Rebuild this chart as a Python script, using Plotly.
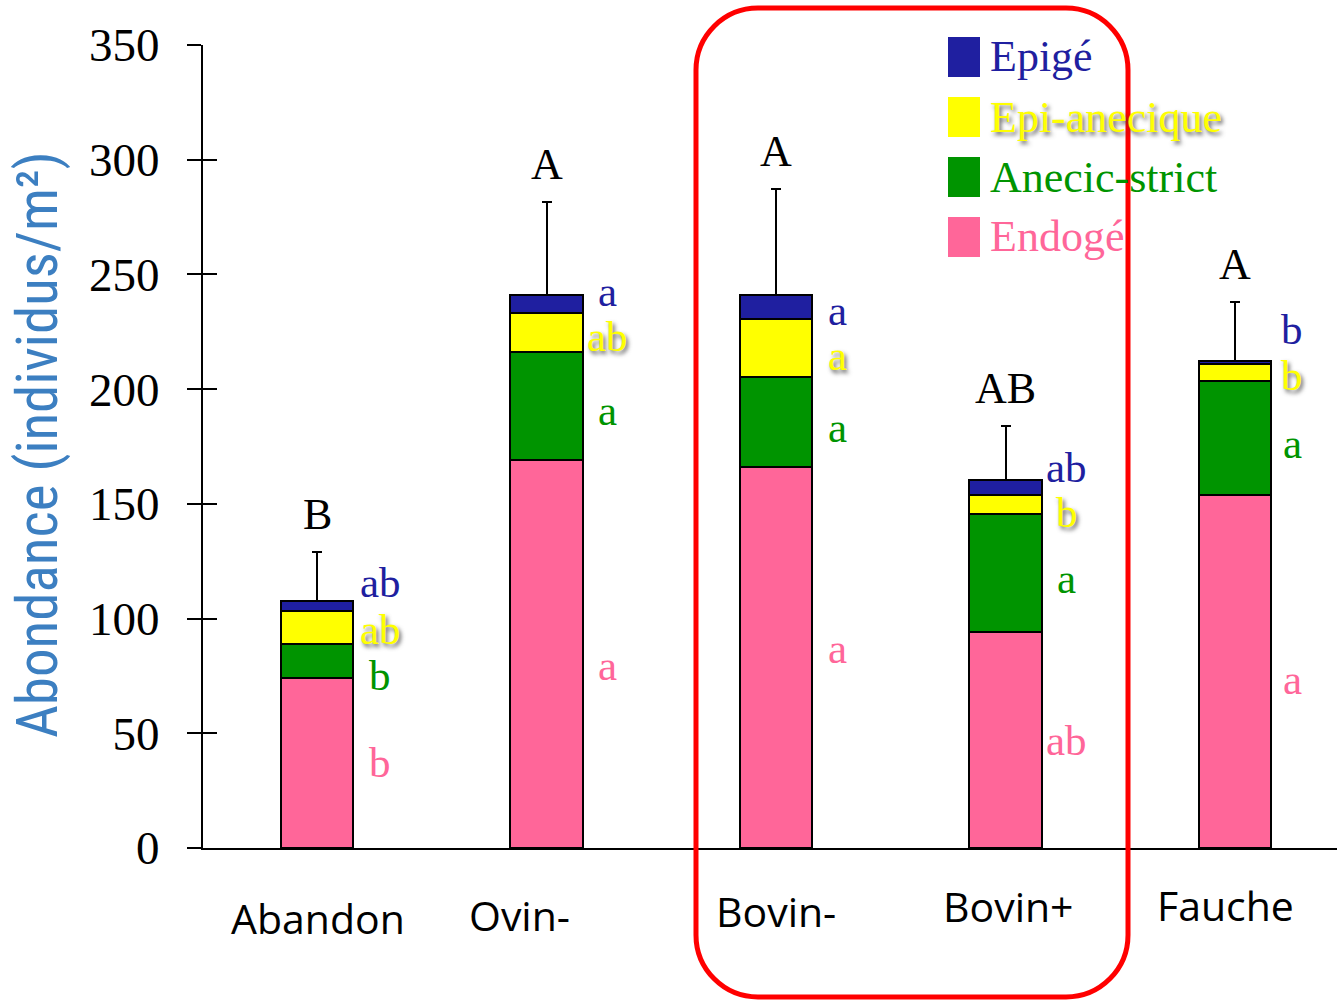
import plotly.graph_objects as go

# ---------------- data ----------------
categories = ["Abandon", "Ovin-", "Bovin-", "Bovin+", "Fauche"]
endoge = [74.0, 169.0, 165.9, 94.1, 154.0]
anecic_strict = [14.9, 47.4, 39.6, 51.5, 49.7]
epi_anecique = [14.2, 16.6, 25.0, 8.3, 7.2]
epige = [4.4, 8.1, 10.5, 6.7, 1.4]
error_plus = [21.4, 40.3, 46.1, 23.3, 25.6]

group_letters = ["B", "A", "A", "AB", "A"]
letters_epige = ["ab", "a", "a", "ab", "b"]
letters_epi_anecique = ["ab", "ab", "a", "b", "b"]
letters_anecic = ["b", "a", "a", "a", "a"]
letters_endoge = ["b", "a", "a", "ab", "a"]

y_ticks = [0, 50, 100, 150, 200, 250, 300, 350]

# ---------------- styles ----------------
C_PINK = "#FF6699"
C_GREEN = "#009400"
C_YELLOW = "#FFFF00"
C_BLUE = "#1F1FA0"
SERIF = "Liberation Serif, DejaVu Serif, serif"
SANS = "Open Sans, Liberation Sans, sans-serif"
NARROW = "Liberation Sans Narrow, Roboto Condensed, Liberation Sans, sans-serif"

W, H = 1337, 1000
ML, MR, MT, MB = 203, 0, 45, 152
PW, PH = W - ML - MR, H - MT - MB


def pxx(px):
    return (px - ML) / PW


def pxy(py):
    return (H - MB - py) / PH


x = list(range(len(categories)))
bar_w = 0.314
line = dict(color="black", width=2)

fig = go.Figure()
series = [
    ("Endogé", endoge, C_PINK),
    ("Anecic-strict", anecic_strict, C_GREEN),
    ("Epi-anecique", epi_anecique, C_YELLOW),
    ("Epigé", epige, C_BLUE),
]
for name, vals, col in series:
    kw = {}
    if name == "Epigé":
        kw["error_y"] = dict(type="data", array=error_plus, arrayminus=[0] * len(x),
                             symmetric=False, color="black", thickness=2, width=5)
    fig.add_trace(go.Bar(x=x, y=vals, name=name, width=bar_w,
                         marker=dict(color=col, line=line), showlegend=False, **kw))

# invisible helper trace for inner ticks axis
fig.add_trace(go.Scatter(x=[0], y=[0], yaxis="y2", mode="markers",
                         marker=dict(opacity=0), showlegend=False, hoverinfo="skip"))

annotations = []

# group letters above error bars
tops = [e + a + p + g + er for e, a, p, g, er in zip(endoge, anecic_strict, epi_anecique, epige, error_plus)]
for i, t in enumerate(group_letters):
    annotations.append(dict(x=x[i], y=tops[i], xref="x", yref="y", text=t, showarrow=False,
                            yanchor="bottom", yshift=11,
                            font=dict(family=SERIF, size=44, color="black")))

# per-series significance letters (label positions in data units)
label_dx = [0.275, 0.266, 0.266, 0.266, 0.25]
pos_epige = [115.8, 242.6, 234.4, 165.9, 226.1]
pos_epi = [95.2, 223.0, 214.8, 146.3, 206.0]
pos_anec = [75.2, 190.9, 183.4, 117.5, 176.4]
pos_endo = [37.3, 79.7, 87.1, 46.9, 73.5]
shadow = "2px 3px 4px rgba(60,60,60,0.8)"
for letters, pos, col, sh in [
    (letters_epige, pos_epige, C_BLUE, None),
    (letters_epi_anecique, pos_epi, C_YELLOW, shadow),
    (letters_anecic, pos_anec, C_GREEN, None),
    (letters_endoge, pos_endo, C_PINK, None),
]:
    for i, t in enumerate(letters):
        f = dict(family=SERIF, size=43, color=col)
        if sh:
            f["shadow"] = sh
        annotations.append(dict(x=x[i] + label_dx[i], y=pos[i], xref="x", yref="y", text=t,
                                showarrow=False, xanchor="center", yanchor="middle", font=f))

# category labels (staggered heights as in the original)
cat_dx = [0.004, -0.118, 0.0, 0.013, -0.043]
cat_py = [918, 915, 911, 906, 905]
for i, c in enumerate(categories):
    annotations.append(dict(x=x[i] + cat_dx[i], y=pxy(cat_py[i]), xref="x", yref="paper", text=c,
                            showarrow=False, xanchor="center", yanchor="middle",
                            font=dict(family=SANS, size=41, color="black")))

# y axis title
annotations.append(dict(x=pxx(37), y=pxy(445), xref="paper", yref="paper",
                        text="Abondance (individus/m²)", textangle=-90, showarrow=False,
                        xanchor="center", yanchor="middle",
                        font=dict(family=NARROW, size=57, color="#3C7FC1")))

# manual legend
shapes = []
legend_items = [("Epigé", C_BLUE, 57, None), ("Epi-anecique", C_YELLOW, 117, shadow),
                ("Anecic-strict", C_GREEN, 177, None), ("Endogé", C_PINK, 237, None)]
for name, col, cy, sh in legend_items:
    shapes.append(dict(type="rect", xref="paper", yref="paper",
                       x0=pxx(948), x1=pxx(980), y0=pxy(cy - 20), y1=pxy(cy + 20),
                       fillcolor=col, line=dict(width=0)))
    f = dict(family=SERIF, size=44, color=col)
    if sh:
        f["shadow"] = sh
    annotations.append(dict(x=pxx(988), y=pxy(cy), xref="paper", yref="paper", text=name,
                            showarrow=False, xanchor="left", yanchor="middle", font=f))

# red rounded rectangle
L, R, T, B, r = 696, 1128, 8, 997, 62
k = 0.5523 * r


def P(px, py):
    return f"{pxx(px):.5f},{pxy(py):.5f}"


path = (f"M {P(L + r, T)} L {P(R - r, T)} "
        f"C {P(R - r + k, T)} {P(R, T + r - k)} {P(R, T + r)} "
        f"L {P(R, B - r)} "
        f"C {P(R, B - r + k)} {P(R - r + k, B)} {P(R - r, B)} "
        f"L {P(L + r, B)} "
        f"C {P(L + r - k, B)} {P(L, B - r + k)} {P(L, B - r)} "
        f"L {P(L, T + r)} "
        f"C {P(L, T + r - k)} {P(L + r - k, T)} {P(L + r, T)} Z")
shapes.append(dict(type="path", xref="paper", yref="paper", path=path,
                   line=dict(color="#FF0000", width=5), fillcolor="rgba(0,0,0,0)"))

x_range = [-(317 - ML) / 229.5, 4 + (W - 1235) / 229.5]

fig.update_layout(
    width=W, height=H,
    margin=dict(l=ML, r=MR, t=MT, b=MB, pad=0),
    paper_bgcolor="white", plot_bgcolor="white",
    barmode="stack",
    bargap=0,
    xaxis=dict(range=x_range, showline=True, linecolor="black", linewidth=2,
               showticklabels=False, ticks="", showgrid=False, zeroline=False),
    yaxis=dict(range=[0, 350], tickvals=y_ticks, ticks="outside", ticklen=14, tickwidth=2,
               tickcolor="black", showline=True, linecolor="black", linewidth=2,
               showgrid=False, zeroline=False, ticklabelstandoff=18,
               tickfont=dict(family=SERIF, size=47, color="black")),
    yaxis2=dict(range=[0, 350], overlaying="y", side="left", anchor="x", tickvals=y_ticks,
                ticks="inside", ticklen=14, tickwidth=2, tickcolor="black",
                showticklabels=False, showline=False, showgrid=False, zeroline=False),
    annotations=annotations,
    shapes=shapes,
    showlegend=False,
)

fig.write_html("out.html")
